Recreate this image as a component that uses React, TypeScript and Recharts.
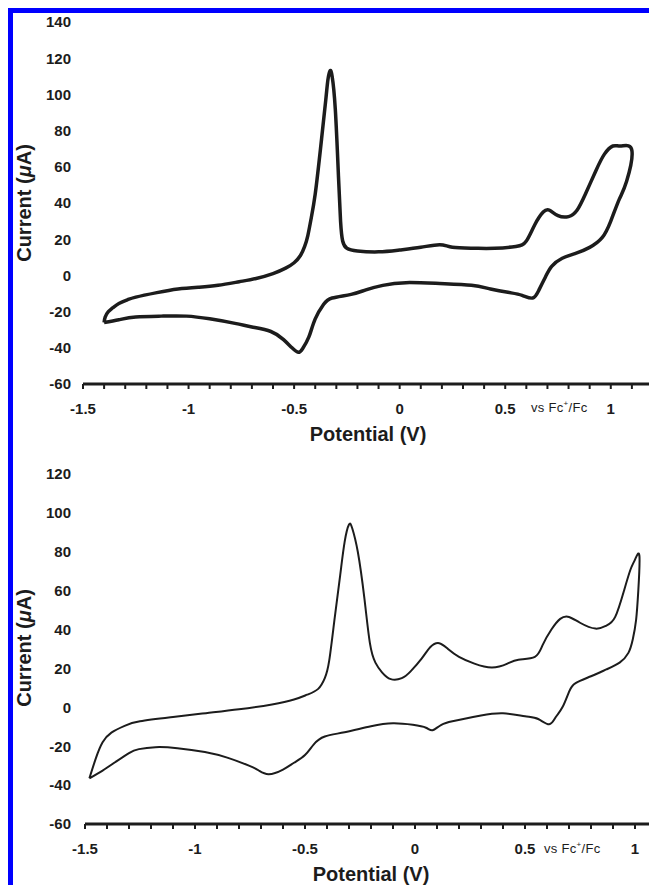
import { LineChart, Line, XAxis, YAxis } from 'recharts';

// upper panel: forward scan from the left vertex, then the return scan
const topPotential = [
  -1.4, -1.395, -1.38, -1.36, -1.33, -1.29, -1.25, -1.15, -1.05, -0.95, -0.86, -0.76, -0.68, -0.6, -0.54,
  -0.5, -0.47, -0.45, -0.435, -0.42, -0.4, -0.375, -0.35, -0.34, -0.33, -0.32, -0.305, -0.29, -0.28, -0.27,
  -0.25, -0.2, -0.1, 0, 0.1, 0.19, 0.25, 0.35, 0.45, 0.55, 0.6, 0.64, 0.68, 0.71, 0.75, 0.8, 0.84, 0.88,
  0.93, 0.97, 1.01, 1.05, 1.1,
  1.075, 1.04, 1.0, 0.96, 0.9, 0.83, 0.77, 0.72, 0.69, 0.66, 0.63, 0.58, 0.52, 0.43, 0.34, 0.19, 0.03,
  -0.08, -0.16, -0.23, -0.32, -0.36, -0.4, -0.43, -0.46, -0.48, -0.51, -0.55, -0.61, -0.7, -0.78, -0.9,
  -1.01, -1.13, -1.25, -1.33, -1.4,
];
const topCurrent = [
  -26, -23, -20, -18, -15.5, -13.5, -12, -9.5, -7.5, -6.5, -5.5, -3.5, -1.7, 1, 4,
  7, 11, 16, 22, 31, 45, 70, 97, 108, 113, 110, 92, 55, 30, 19,
  15, 13.5, 13, 14, 15.5, 17, 15.5, 15, 15, 16, 19, 28, 35, 36, 33, 32.5, 36, 45,
  58, 67, 71.5, 71.5, 69,
  52, 42, 30, 21, 15.5, 12, 9.5, 5, -1, -8, -12.5, -11, -9.5, -7.5, -5.5, -4.5, -4,
  -5.5, -8, -10.5, -12.5, -16, -24, -34, -40.5, -42.5, -40, -35.5, -31, -28.5, -26.5, -24,
  -22.5, -22.5, -23, -24.5, -26,
];

// lower panel
const bottomPotential = [
  -1.48, -1.45, -1.42, -1.38, -1.32, -1.25, -1.1, -0.95, -0.8, -0.65, -0.55, -0.49, -0.44, -0.41, -0.39,
  -0.365, -0.34, -0.32, -0.3, -0.285, -0.26, -0.23, -0.205, -0.18, -0.15, -0.11, -0.06, -0.02, 0.03, 0.07,
  0.11, 0.15, 0.2, 0.27, 0.35, 0.42, 0.47, 0.545, 0.58, 0.62, 0.66, 0.7, 0.75, 0.82, 0.87, 0.91, 0.95,
  0.98, 1.0, 1.02,
  1.015, 1.005, 0.99, 0.97, 0.93, 0.87, 0.8, 0.73, 0.7, 0.67, 0.64, 0.61, 0.56, 0.5, 0.4, 0.3, 0.22,
  0.17, 0.12, 0.08, 0.05, -0.01, -0.1, -0.2, -0.32, -0.41, -0.46, -0.5, -0.55, -0.6, -0.665, -0.71,
  -0.755, -0.85, -0.955, -1.08, -1.18, -1.255, -1.3, -1.36, -1.42, -1.48,
];
const bottomCurrent = [
  -36.5, -26, -18, -13, -9.5, -7.2, -5, -3, -1, 1.5, 4, 6.5, 9.5, 15, 24,
  46, 68, 85, 94, 92, 80, 56, 33, 23, 18, 14.5, 15, 18.5, 25, 31,
  33, 30, 26, 22.5, 20.5, 22.5, 24.5, 26, 32, 40, 45.5, 46.5, 43.5, 40.5, 42, 46.5, 60,
  71, 76, 78,
  60, 45, 35, 28, 23, 19.5, 16, 12.5, 8, 0, -5, -8.7, -6, -4.6, -3.1, -4.2, -6,
  -7.2, -9, -11.8, -10.5, -9, -8.2, -9.7, -12.8, -15, -19, -24.5, -28.5, -32, -34.4, -32.5,
  -30, -26, -23, -21, -20.5, -21.5, -23.5, -28, -32.5, -36.5,
];

const topXTicks = [
  -1.5, -1.4, -1.3, -1.2, -1.1, -1, -0.9, -0.8, -0.7, -0.6, -0.5, -0.4, -0.3, -0.2, -0.1,
  0, 0.1, 0.2, 0.3, 0.4, 0.5, 0.6, 0.7, 0.8, 0.9, 1, 1.1, 1.2,
];
const bottomXTicks = [
  -1.5, -1.4, -1.3, -1.2, -1.1, -1, -0.9, -0.8, -0.7, -0.6, -0.5, -0.4, -0.3, -0.2, -0.1,
  0, 0.1, 0.2, 0.3, 0.4, 0.5, 0.6, 0.7, 0.8, 0.9, 1, 1.1,
];
const xLabels = [-1.5, -1, -0.5, 0, 0.5, 1];
const topYTicks = [-60, -40, -20, 0, 20, 40, 60, 80, 100, 120, 140];
const bottomYTicks = [-60, -40, -20, 0, 20, 40, 60, 80, 100, 120];

const FONT = '"Liberation Sans", Arial, sans-serif';
const INK = '#1c1c1c';

const zip = (xs: number[], ys: number[]) => xs.map((x, i) => ({ x, y: ys[i] }));

const fmtX = (v: number) => {
  const hit = xLabels.find((l) => Math.abs(l - v) < 1e-6);
  return hit === undefined ? '' : String(hit);
};

function Panel({
  data,
  xTicks,
  yTicks,
  xMax,
  yMax,
  height,
  top,
  right,
  yWidth,
  stroke,
}: {
  data: { x: number; y: number }[];
  xTicks: number[];
  yTicks: number[];
  xMax: number;
  yMax: number;
  height: number;
  top: number;
  right: number;
  yWidth: number;
  stroke: number;
}) {
  const tick = { fontSize: 15, fontWeight: 700, fill: INK, fontFamily: FONT };
  return (
    <LineChart width={649} height={height} data={data} margin={{ top, right, bottom: 0, left: 0 }}>
      <XAxis
        dataKey="x"
        type="number"
        domain={[-1.5, xMax]}
        ticks={xTicks}
        interval={0}
        tickFormatter={fmtX}
        tick={tick}
        tickSize={5}
        tickMargin={14}
        height={40}
        axisLine={{ stroke: INK, strokeWidth: 3 }}
        tickLine={{ stroke: INK, strokeWidth: 2 }}
      />
      <YAxis
        type="number"
        domain={[-60, yMax]}
        ticks={yTicks}
        interval={0}
        width={yWidth}
        tick={tick}
        tickSize={0}
        tickMargin={yWidth - 63}
        axisLine={false}
        tickLine={false}
      />
      <Line
        dataKey="y"
        type="natural"
        stroke={INK}
        strokeWidth={stroke}
        strokeLinejoin="round"
        dot={false}
        isAnimationActive={false}
      />
    </LineChart>
  );
}

const axisTitle: React.CSSProperties = {
  position: 'absolute',
  fontFamily: FONT,
  fontWeight: 700,
  fontSize: 20,
  color: INK,
  whiteSpace: 'nowrap',
  lineHeight: 1,
};

function CurrentLabel({ x, y }: { x: number; y: number }) {
  return (
    <div style={{ ...axisTitle, left: x, top: y, transform: 'translate(-50%, -50%) rotate(-90deg)' }}>
      Current (<i>μ</i>A)
    </div>
  );
}

function PotentialLabel({ x, y }: { x: number; y: number }) {
  return (
    <div style={{ ...axisTitle, left: x, top: y, transform: 'translate(-50%, -50%)' }}>Potential (V)</div>
  );
}

function RefLabel({ x, y }: { x: number; y: number }) {
  return (
    <div
      style={{
        position: 'absolute',
        left: x,
        top: y,
        transform: 'translateY(-50%)',
        fontFamily: FONT,
        fontSize: 13,
        color: INK,
        whiteSpace: 'nowrap',
        lineHeight: 1,
        letterSpacing: 0.3,
      }}
    >
      vs Fc<sup style={{ fontSize: 8 }}>+</sup>/Fc
    </div>
  );
}

export default function App() {
  return (
    <div style={{ position: 'relative', width: 649, height: 877, background: '#fff' }}>
      <div style={{ position: 'absolute', left: 0, top: 0, width: 5, height: 877, background: '#0000ff' }} />
      <div style={{ position: 'absolute', left: 0, top: 0, width: 649, height: 5, background: '#0000ff' }} />

      <div style={{ position: 'absolute', left: 0, top: 0 }}>
        <Panel
          data={zip(topPotential, topCurrent)}
          xTicks={topXTicks}
          yTicks={topYTicks}
          xMax={1.2}
          yMax={140}
          height={416}
          top={14}
          right={4}
          yWidth={75}
          stroke={3.5}
        />
      </div>
      <CurrentLabel x={16} y={195} />
      <PotentialLabel x={360} y={426} />
      <RefLabel x={523} y={399} />

      <div style={{ position: 'absolute', left: 0, top: 442 }}>
        <Panel
          data={zip(bottomPotential, bottomCurrent)}
          xTicks={bottomXTicks}
          yTicks={bottomYTicks}
          xMax={1.1}
          yMax={120}
          height={414}
          top={24}
          right={0}
          yWidth={77}
          stroke={2}
        />
      </div>
      <CurrentLabel x={16} y={640} />
      <PotentialLabel x={363} y={866} />
      <RefLabel x={536} y={840} />
    </div>
  );
}
